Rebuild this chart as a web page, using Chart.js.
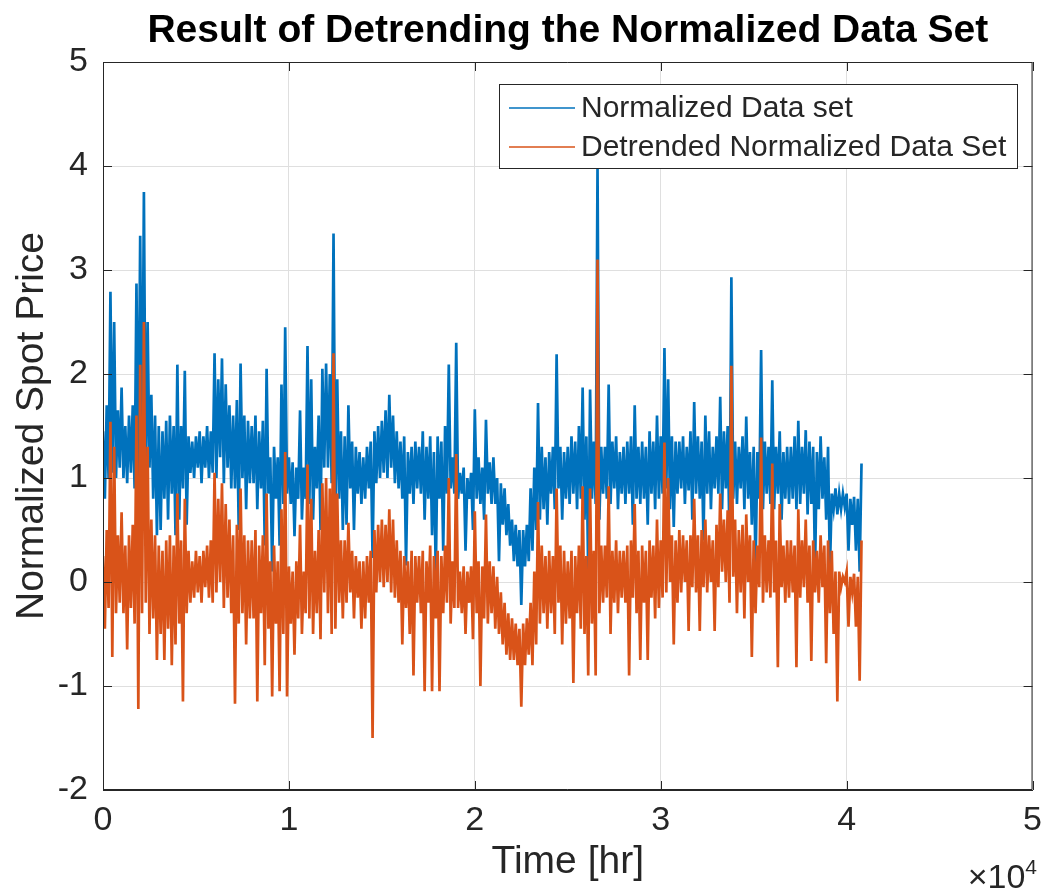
<!DOCTYPE html>
<html>
<head>
<meta charset="utf-8">
<title>Result of Detrending the Normalized Data Set</title>
<script src="https://cdn.jsdelivr.net/npm/chart.js@4.4.1/dist/chart.umd.min.js"></script>
<style>
  html, body { margin: 0; padding: 0; background: #ffffff; }
  #plot { display: block; }
</style>
</head>
<body>
<canvas id="plot" width="1052" height="895"></canvas>
<script>
// sampling: upper readings at every 200 hr, lower readings 100 hr after each
const STEP = 200;

// normalized spot price, upper envelope (one row = 1000 hr)
const blueHigh = [
  1.45, 1.7, 2.79, 2.5, 1.65,
  1.87, 1.5, 1.6, 1.7, 2.87,
  3.33, 3.75, 2.5, 1.8, 1.6,
  1.5, 1.45, 1.55, 1.6, 1.5,
  2.09, 1.5, 2.03, 1.4, 1.35,
  1.4, 1.45, 1.4, 1.5, 1.45,
  2.2, 1.95, 2.15, 1.9, 1.7,
  1.6, 1.75, 2.1, 1.6, 1.55,
  1.5, 1.6, 1.45, 1.55, 2.05,
  1.2, 1.3, 1.2, 1.9, 2.45,
  1.2, 1.15, 1.1, 1.65, 1.1,
  2.27, 1.95, 1.3, 1.6, 2.05,
  2.1, 2.0, 3.35, 1.95, 1.45,
  1.4, 1.7, 1.35, 1.3, 1.25,
  1.2, 1.3, 1.35, 1.45, 1.5,
  1.55, 1.65, 1.8, 1.6, 1.45,
  1.35, 1.4, 1.25, 1.3, 1.35,
  1.3, 1.45, 1.3, 1.4, 1.25,
  1.4, 1.35, 1.5, 2.09, 1.2,
  2.3, 1.05, 1.1, 1.0, 1.05,
  1.66, 1.2, 1.1, 1.56, 1.15,
  1.2, 1.0, 0.95, 0.9, 0.75,
  0.6, 0.55, 0.5, 0.5, 0.55,
  0.9, 1.1, 1.72, 1.3, 1.2,
  1.25, 1.3, 2.19, 1.3, 1.25,
  1.3, 1.4, 1.35, 1.5, 1.87,
  1.4, 1.85, 1.35, 4.0, 1.3,
  1.3, 1.9, 1.35, 1.4, 1.25,
  1.3, 1.35, 1.4, 1.7, 1.3,
  1.35, 1.3, 1.45, 1.35, 1.6,
  1.4, 2.25, 1.95, 1.4, 1.35,
  1.35, 1.4, 1.3, 1.45, 1.73,
  1.4, 1.35, 1.6, 1.45, 1.3,
  1.4, 1.78, 1.45, 1.5, 2.93,
  1.35, 1.3, 1.4, 1.59, 1.25,
  1.3, 1.25, 2.23, 1.35, 1.3,
  1.94, 1.3, 1.45, 1.25, 1.3,
  1.3, 1.4, 1.55, 1.3, 1.46,
  1.35, 1.3, 1.25, 1.4, 1.2,
  1.3, 0.85, 0.9, 0.85, 0.85,
  0.85, 0.8, 0.82, 0.8, 1.14
];

// normalized spot price, lower envelope
const blueLow = [
  0.8, 1.0, 1.05, 1.0, 1.1,
  1.0, 0.95, 1.05, 0.9, 0.95,
  1.0, 0.9, 1.1, 0.8, 0.45,
  0.5, 0.8, 0.6, 0.85, 0.45,
  0.6, 0.9, 0.55, 1.05, 1.0,
  1.1, 0.95, 1.1, 1.0, 1.05,
  1.0, 1.2, 0.95, 1.1, 0.9,
  0.9, 0.5, 1.0, 0.7, 0.95,
  0.95, 0.7, 0.9, 0.35, 0.85,
  0.1, 0.8, 0.35, 0.75, 0.85,
  0.75, 0.44, 0.8, 0.6, 0.8,
  0.75, 0.6, 0.9, 0.5, 1.1,
  1.1, 0.95, 0.6, 0.8, 0.5,
  0.55, 0.9, 0.5, 0.85, 0.75,
  0.8, 0.9, 0.23, 0.95, 1.0,
  1.05, 1.0, 1.1, 0.95, 0.9,
  0.8, 0.16, 0.85, 0.75, 0.9,
  0.85, 0.6, 0.8, 0.45, 0.06,
  0.8, 0.3, 0.85, 0.9, 0.85,
  0.8, 0.85, 0.3, 0.8, 0.5,
  0.8, 0.75, 0.6, 0.85, 0.75,
  0.75, 0.2, 0.55, 0.45, 0.35,
  0.2, 0.15, -0.22, 0.15, 0.2,
  0.3, 0.5, 0.6, 0.7, 0.55,
  0.85, 0.7, 0.9, 0.6, 0.8,
  0.75, 0.85, 0.7, 0.8, 0.6,
  0.05, 0.8, 0.75, 0.6, 0.85,
  0.8, 0.75, 0.9, 0.7, 0.85,
  0.75, 0.85, 0.55, 0.8, 0.75,
  0.8, 0.55, 0.85, 0.7, 0.8,
  0.85, 0.9, 0.7, 0.53, 0.85,
  0.9, 0.75, 0.88, 0.6, 0.85,
  0.8, 0.4, 0.85, 0.7, 0.9,
  0.85, 0.7, 0.9, 0.4, 0.8,
  0.75, 0.9, 0.7, 0.8, 0.55,
  0.14, 0.8, 0.7, 0.85, 0.75,
  0.7, 0.85, 0.6, 0.8, 0.75,
  0.8, 0.7, 0.75, 0.85, 0.65,
  0.75, 0.1, 0.7, 0.8, 0.6,
  0.1, 0.7, 0.65, 0.7, 0.72,
  0.3, 0.55, 0.3, 0.1
];

// detrended series, upper envelope
const orangeHigh = [
  0.25, 0.5, 1.54, 1.3, 0.45,
  0.67, 0.35, 0.45, 0.55, 1.6,
  2.09, 2.5, 1.3, 0.6, 0.45,
  0.35, 0.3, 0.4, 0.45, 0.35,
  0.85, 0.4, 0.8, 0.3, 0.2,
  0.3, 0.25, 0.3, 0.35, 0.4,
  1.05, 0.8, 0.95, 0.75, 0.6,
  0.45, 0.55, 0.9, 0.45, 0.4,
  0.4, 0.5, 0.35, 0.45, 0.85,
  0.2, 0.35, 0.2, 0.7, 1.25,
  0.15, 0.1, 0.2, 0.55, 0.1,
  1.13, 0.8, 0.3, 0.5, 0.95,
  1.0, 0.9, 2.2, 0.85, 0.4,
  0.4, 0.57, 0.3, 0.25, 0.2,
  0.2, 0.25, 0.3, 0.5, 0.55,
  0.6, 0.55, 0.7, 0.6, 0.4,
  0.3, 0.25, 0.2, 0.3, 0.25,
  0.25, 0.3, 0.2, 0.35, 0.25,
  0.3, 0.25, 0.35, 1.0, 0.2,
  1.23, 0.1, 0.15, 0.1, 0.15,
  0.68, 0.2, 0.15, 0.65, 0.2,
  0.15, 0.05, -0.1, -0.2, -0.3,
  -0.35, -0.4, -0.45, -0.4, -0.35,
  -0.2, 0.1, 0.77, 0.35, 0.25,
  0.3, 0.25, 0.9, 0.35, 0.3,
  0.2, 0.3, 0.25, 0.35, 0.92,
  0.25, 0.9, 0.3, 3.1, 0.35,
  0.35, 0.92, 0.3, 0.4, 0.3,
  0.3, 0.35, 0.4, 0.75, 0.3,
  0.35, 0.3, 0.4, 0.35, 0.6,
  0.4, 1.34, 1.0, 0.45, 0.4,
  0.5, 0.45, 0.4, 0.45, 0.8,
  0.45, 0.5, 0.6, 0.45, 0.4,
  0.55, 0.85, 0.6, 0.69, 2.08,
  0.6, 0.5, 0.55, 0.65, 0.45,
  0.4, 0.35, 1.39, 0.45, 0.4,
  1.14, 0.4, 0.75, 0.35, 0.4,
  0.4, 0.35, 0.7, 0.4, 0.6,
  0.35, 0.4, 0.3, 0.45, 0.35,
  0.4, 0.3, 0.1, 0.1, 0.05,
  0.1, 0.05, 0.08, 0.05, 0.4
];

// detrended series, lower envelope
const orangeLow = [
  -0.45, -0.25, -0.72, -0.3, -0.2,
  -0.3, -0.65, -0.25, -0.4, -1.22,
  -0.3, -0.2, -0.5, -0.35, -0.75,
  -0.5, -0.75, -0.45, -0.8, -0.6,
  -0.4, -1.15, -0.3, -0.2, -0.15,
  -0.1, -0.2, -0.05, -0.15, -0.2,
  -0.1, 0.0, -0.25, -0.15, -0.3,
  -1.17, -0.4, -0.3, -0.6, -0.35,
  -0.35, -1.15, -0.3, -0.8, -0.45,
  -1.1, -0.4, -1.05, -0.5, -1.1,
  -0.4, -0.7, -0.35, -0.5, -0.3,
  -0.35, -0.5, -0.3, -0.55, -0.1,
  -0.3, -0.5, -0.45, -0.2, -0.35,
  -0.2, -0.1, -0.35, -0.15, -0.45,
  -0.35, -0.2, -1.5, -0.1, 0.0,
  -0.05, 0.0, -0.1, -0.15, -0.2,
  -0.6, -0.25, -0.5, -0.9, -0.2,
  -0.3, -1.05, -0.2, -1.05, -0.35,
  -1.05, -0.3, -0.2, -0.4, -0.25,
  -0.25, -0.3, -0.5, -0.2, -0.55,
  -0.3, -1.0, -0.35, -0.4, -0.3,
  -0.45, -0.5, -0.6, -0.7, -0.75,
  -0.75, -0.8, -1.2, -0.8, -0.7,
  -0.8, -0.6, -0.4, -0.3, -0.45,
  -0.3, -0.5, -0.2, -0.6, -0.4,
  -0.35, -0.97, -0.3, -0.45, -0.5,
  -0.9, -0.4, -0.9, -0.3, -0.2,
  -0.15, -0.5, -0.2, -0.3, -0.15,
  -0.2, -0.9, -0.15, -0.3, -0.75,
  -0.2, -0.75, -0.15, -0.35, -0.25,
  -0.15, -0.1, 0.0, -0.6, -0.2,
  -0.1, 0.0, -0.47, -0.05, -0.1,
  -0.47, -0.05, -0.1, 0.0, -0.47,
  -0.05, 0.1, 0.0, -0.2, 0.05,
  -0.3, -0.1, -0.35, 0.0, -0.72,
  -0.3, -0.05, -0.2, -0.1, -0.15,
  -0.1, -0.82, -0.05, -0.2, -0.15,
  -0.1, -0.82, -0.15, -0.05, -0.2,
  -0.76, -0.1, -0.2, -0.05, -0.78,
  -0.3, -0.5, -1.15, -0.05, 0.0,
  -0.43, -0.1, -0.43, -0.95
];

const seriesNames = ['Normalized Data set', 'Detrended Normalized Data Set'];
const seriesColors = ['#0072BD', '#D95319'];

const xTickValues = [0, 10000, 20000, 30000, 40000, 50000];
const yTickValues = [-2, -1, 0, 1, 2, 3, 4, 5];

const AXIS = '#262626';
const FONT = '"Liberation Sans", Helvetica, Arial, sans-serif';

// merge upper/lower readings into one time-ordered trace
function zigzag(highs, lows) {
  const pts = [];
  highs.forEach((h, i) => {
    pts.push({ x: i * STEP, y: h });
    if (i < lows.length) pts.push({ x: i * STEP + STEP / 2, y: lows[i] });
  });
  return pts;
}

// box, inward ticks, legend, title and axis labels in matlab style
const matlabFrame = {
  id: 'matlabFrame',
  afterDraw(chart) {
    const { ctx, chartArea: a, scales: { x, y } } = chart;
    const tl = 9;
    ctx.save();
    ctx.strokeStyle = AXIS;
    ctx.lineWidth = 1;
    ctx.beginPath();
    ctx.rect(a.left + 0.5, a.top + 0.5, a.right - a.left - 1, a.bottom - a.top - 1);
    xTickValues.forEach(v => {
      const px = Math.round(x.getPixelForValue(v)) + 0.5;
      ctx.moveTo(px, a.bottom); ctx.lineTo(px, a.bottom - tl);
      ctx.moveTo(px, a.top); ctx.lineTo(px, a.top + tl);
    });
    yTickValues.forEach(v => {
      const py = Math.round(y.getPixelForValue(v)) + 0.5;
      ctx.moveTo(a.left, py); ctx.lineTo(a.left + tl, py);
      ctx.moveTo(a.right, py); ctx.lineTo(a.right - tl, py);
    });
    ctx.stroke();

    // legend
    const lx = 499, ly = 84, lw = 518, lh = 84;
    ctx.fillStyle = '#ffffff';
    ctx.fillRect(lx, ly, lw, lh);
    ctx.strokeRect(lx + 0.5, ly + 0.5, lw, lh);
    ctx.font = '30px ' + FONT;
    ctx.textBaseline = 'middle';
    ctx.textAlign = 'left';
    seriesNames.forEach((name, i) => {
      const ry = ly + 24 + i * 39;
      ctx.strokeStyle = seriesColors[i];
      ctx.lineWidth = 1.5;
      ctx.beginPath();
      ctx.moveTo(lx + 10, ry); ctx.lineTo(lx + 76, ry);
      ctx.stroke();
      ctx.fillStyle = AXIS;
      ctx.fillText(name, lx + 82, ry + 1);
    });

    // title
    ctx.fillStyle = '#000000';
    ctx.textAlign = 'center';
    ctx.textBaseline = 'alphabetic';
    ctx.font = 'bold 39px ' + FONT;
    ctx.fillText('Result of Detrending the Normalized Data Set', (a.left + a.right) / 2, 42);

    // axis labels
    ctx.fillStyle = AXIS;
    ctx.font = '39px ' + FONT;
    ctx.fillText('Time [hr]', (a.left + a.right) / 2, 873);
    ctx.save();
    ctx.translate(43, (a.top + a.bottom) / 2);
    ctx.rotate(-Math.PI / 2);
    ctx.fillText('Normalized Spot Price', 0, 0);
    ctx.restore();

    // exponent of the time axis
    ctx.textAlign = 'right';
    ctx.font = '21px ' + FONT;
    ctx.fillText('4', 1037, 874);
    const w4 = ctx.measureText('4').width;
    ctx.font = '34px ' + FONT;
    ctx.fillText('\u00d710', 1037 - w4, 888);
    ctx.restore();
  }
};

new Chart(document.getElementById('plot').getContext('2d'), {
  type: 'line',
  data: {
    datasets: [
      {
        label: seriesNames[0],
        data: zigzag(blueHigh, blueLow),
        borderColor: seriesColors[0],
        borderWidth: 2.7,
        borderJoinStyle: 'miter',
        pointRadius: 0,
        tension: 0,
        order: 2
      },
      {
        label: seriesNames[1],
        data: zigzag(orangeHigh, orangeLow),
        borderColor: seriesColors[1],
        borderWidth: 2.7,
        borderJoinStyle: 'miter',
        pointRadius: 0,
        tension: 0,
        order: 1
      }
    ]
  },
  options: {
    responsive: false,
    animation: false,
    events: [],
    layout: { padding: { top: 62, right: 15, left: 0, bottom: 0 } },
    plugins: {
      legend: { display: false },
      title: { display: false },
      tooltip: { enabled: false }
    },
    scales: {
      x: {
        type: 'linear',
        min: 0,
        max: 50000,
        afterFit: s => { s.height = 105; },
        afterBuildTicks: s => { s.ticks = xTickValues.map(v => ({ value: v })); },
        grid: { color: '#dfdfdf', lineWidth: 1, drawTicks: false },
        border: { display: true, color: AXIS, width: 1 },
        ticks: {
          color: AXIS,
          padding: 10,
          maxRotation: 0,
          autoSkip: false,
          font: { family: FONT, size: 34 },
          callback: v => String(v / 10000)
        }
      },
      y: {
        min: -2,
        max: 5,
        afterFit: s => { s.width = 103; },
        afterBuildTicks: s => { s.ticks = yTickValues.map(v => ({ value: v })); },
        grid: { color: '#dfdfdf', lineWidth: 1, drawTicks: false },
        border: { display: true, color: AXIS, width: 1 },
        ticks: {
          color: AXIS,
          padding: 15,
          autoSkip: false,
          font: { family: FONT, size: 34 },
          callback: v => String(v)
        }
      }
    }
  },
  plugins: [matlabFrame]
});
</script>
</body>
</html>
